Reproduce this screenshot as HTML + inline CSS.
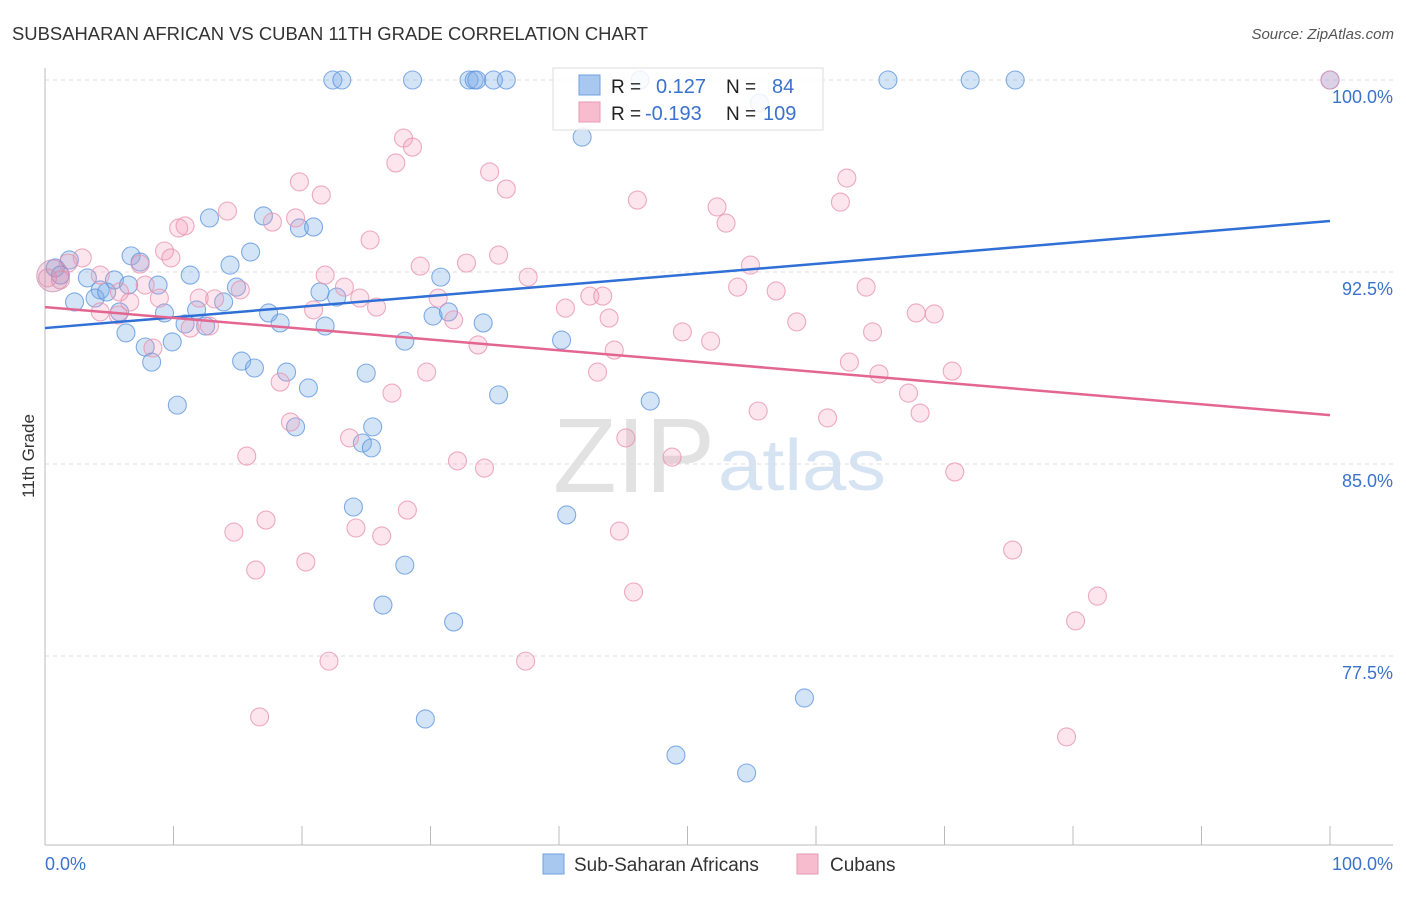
<!DOCTYPE html>
<html><head><meta charset="utf-8"><style>
body{margin:0;background:#fff;font-family:"Liberation Sans",sans-serif;}
svg text{font-family:"Liberation Sans",sans-serif;}
</style></head><body>
<svg id="chart" width="1406" height="892" xmlns="http://www.w3.org/2000/svg">
<text x="12" y="40" font-size="18" fill="#333" textLength="636" lengthAdjust="spacingAndGlyphs">SUBSAHARAN AFRICAN VS CUBAN 11TH GRADE CORRELATION CHART</text>
<text x="1394" y="39" font-size="15" fill="#555" text-anchor="end" font-style="italic">Source: ZipAtlas.com</text>
<text transform="translate(34,456) rotate(-90)" font-size="17" fill="#333" text-anchor="middle">11th Grade</text>
<g>
<text x="553" y="492" font-size="106" font-family="Liberation Serif,serif" fill="#e2e2e2" textLength="162" lengthAdjust="spacingAndGlyphs">ZIP</text>
<text x="718" y="490" font-size="72" fill="#d6e3f3" textLength="168" lengthAdjust="spacingAndGlyphs">atlas</text>
</g>
<g id="grid"></g><g id="axes"></g><g id="pts"></g><g id="trend"></g>
<g>
<rect x="553" y="68" width="270" height="62" fill="#fff" fill-opacity="0.85" stroke="#ddd"/>
<rect x="579" y="75" width="21" height="20" fill="#a9c8ef" stroke="#6fa0e0"/>
<rect x="579" y="102" width="21" height="20" fill="#f7bccd" stroke="#e99ab4"/>
<text x="611" y="93" font-size="19" fill="#222">R =</text>
<text x="656" y="93" font-size="20" fill="#3a72cc">0.127</text>
<text x="726" y="93" font-size="19" fill="#222">N =</text>
<text x="772" y="93" font-size="20" fill="#3a72cc">84</text>
<text x="611" y="120" font-size="19" fill="#222">R =</text>
<text x="645" y="120" font-size="20" fill="#3a72cc">-0.193</text>
<text x="726" y="120" font-size="19" fill="#222">N =</text>
<text x="763" y="120" font-size="20" fill="#3a72cc">109</text>
</g>
<g>
<rect x="543" y="854" width="21" height="20" fill="#a9c8ef" stroke="#6fa0e0"/>
<text x="574" y="871" font-size="19" fill="#333">Sub-Saharan Africans</text>
<rect x="797" y="854" width="21" height="20" fill="#f7bccd" stroke="#e99ab4"/>
<text x="830" y="871" font-size="19" fill="#333">Cubans</text>
</g>
</svg>
<script>
const blueX=[22.4,23.1,28.6,33.0,33.4,33.6,34.9,35.9,65.6,72.0,75.5,100,46.3,41.8,55.6,12.8,17.0,19.8,20.9,16.0,6.7,7.4,1.9,0.8,1.2,3.3,5.4,11.3,14.4,8.8,4.3,6.5,14.9,2.3,3.9,4.8,5.8,9.3,11.8,13.9,10.9,12.5,17.4,18.3,21.4,22.7,21.8,28.0,30.8,30.2,31.4,34.1,40.2,6.3,7.8,9.9,8.3,15.3,16.3,18.8,20.5,25.0,10.3,19.5,25.5,24.7,25.4,35.3,47.1,24.0,40.6,28.0,26.3,31.8,29.6,59.1,49.1,54.6];
const blueY=[100,100,100,100,100,100,100,100,100,100,100,100,100,97.77,99.10,94.61,94.69,94.22,94.26,93.28,93.13,92.89,92.97,92.66,92.38,92.27,92.19,92.38,92.77,91.99,91.80,91.99,91.91,91.33,91.48,91.72,90.94,90.90,91.02,91.33,90.47,90.39,90.90,90.51,91.72,91.52,90.39,89.80,92.30,90.78,90.94,90.51,89.84,90.12,89.57,89.77,88.98,89.02,88.75,88.59,87.97,88.55,87.30,86.45,86.45,85.82,85.63,87.70,87.46,83.32,83.01,81.05,79.49,78.83,75.04,75.86,73.63,72.93];
const pinkX=[27.9,28.6,27.3,34.6,35.9,19.8,21.5,14.2,46.1,52.3,53.0,62.4,61.9,10.9,10.4,17.7,19.5,25.3,9.3,9.8,7.4,2.9,1.8,4.3,1.2,0.2,29.2,32.8,35.3,37.6,54.9,21.8,23.3,24.5,25.8,30.6,42.4,43.4,53.9,56.9,63.9,5.8,6.6,7.8,8.9,12.0,13.2,15.2,4.3,5.7,11.3,12.8,20.9,31.8,40.5,43.9,49.6,51.8,58.5,64.4,67.8,69.2,8.4,33.7,44.3,18.3,27.0,29.7,43.0,62.6,64.9,70.6,67.2,68.1,55.5,60.9,19.1,23.7,45.2,15.7,32.1,34.2,48.8,70.8,28.2,17.2,24.2,26.2,14.7,44.7,20.3,16.4,75.3,45.8,81.9,80.2,22.1,37.4,16.7,79.5,100];
const pinkY=[97.73,97.38,96.76,96.41,95.74,96.02,95.51,94.88,95.31,95.04,94.41,96.17,95.23,94.30,94.22,94.45,94.61,93.75,93.32,93.05,92.81,93.05,92.85,92.38,92.19,92.27,92.73,92.85,93.16,92.30,92.77,92.38,91.91,91.48,91.13,91.48,91.56,91.56,91.91,91.76,91.91,91.72,91.33,91.99,91.48,91.48,91.45,91.80,90.94,90.82,90.31,90.39,91.02,90.63,91.09,90.70,90.16,89.80,90.55,90.16,90.90,90.86,89.53,89.65,89.45,88.20,87.77,88.59,88.59,88.98,88.52,88.63,87.77,86.99,87.07,86.80,86.64,86.02,86.02,85.31,85.12,84.84,85.27,84.69,83.20,82.81,82.50,82.19,82.34,82.38,81.17,80.86,81.64,80.00,79.84,78.87,77.30,77.30,75.12,74.34,100];
const blueTrend=[90.31,94.49];
const pinkTrend=[91.13,86.91];
const yTicks=[100,92.5,85,77.5];
const yTickLabels=["100.0%","92.5%","85.0%","77.5%"];
const xTickLabels=["0.0%","100.0%"];

const NS="http://www.w3.org/2000/svg";
const sx=v=>45+v*12.85;
const sy=v=>80+(100-v)*25.6;
function mk(tag,attrs,parent){const e=document.createElementNS(NS,tag);for(const k in attrs)e.setAttribute(k,attrs[k]);parent.appendChild(e);return e;}
const grid=document.getElementById('grid'),axes=document.getElementById('axes'),pts=document.getElementById('pts'),trend=document.getElementById('trend');
yTicks.forEach((t,i)=>{
  const l=mk('line',{x1:45,x2:1393,y1:sy(t),y2:sy(t),stroke:'#ddd','stroke-dasharray':'4,4'},grid);
  
  
  const tx=mk('text',{x:1393,y:sy(t)+23,'font-size':18,fill:'#3a72cc','text-anchor':'end'},axes);
  tx.textContent=yTickLabels[i];
  
  
});
const ax=mk('line',{x1:45,x2:1393,y1:845,y2:845,stroke:'#bbb'},axes);


const ay=mk('line',{x1:45,x2:45,y1:68,y2:845,stroke:'#bbb'},axes);


for(let i=0;i<=10;i++){
  const t=mk('line',{x1:sx(i*10),x2:sx(i*10),y1:826,y2:845,stroke:'#bbb'},axes);
  
  
}
[[0,'start',45],[100,'end',1393]].forEach((d,i)=>{
  const t=mk('text',{x:d[2],y:870,'font-size':18,fill:'#3a72cc','text-anchor':d[1]},axes);
  t.textContent=xTickLabels[i];
  
  
});
function drawPts(xs,ys,fill,stroke,name){
  xs.forEach((x,i)=>{
    const c=mk('circle',{cx:sx(x),cy:sy(ys[i]),r:9,fill:fill,stroke:stroke,'stroke-width':1.1,'stroke-opacity':0.75},pts);
    
    
  });
}
drawPts(blueX,blueY,'rgba(120,170,230,0.32)','#5b93dd','subsaharan-point');
drawPts(pinkX,pinkY,'rgba(242,150,180,0.25)','#e890ae','cuban-point');
const big1=mk('circle',{cx:sx(0.6),cy:sy(92.35),r:16,fill:'rgba(200,130,170,0.3)',stroke:'#c98ab0','stroke-opacity':0.7},pts);


const bl=mk('line',{x1:sx(0),x2:sx(100),y1:sy(blueTrend[0]),y2:sy(blueTrend[1]),stroke:'#2f6fd6','stroke-width':2.5},trend);


const pl=mk('line',{x1:sx(0),x2:sx(100),y1:sy(pinkTrend[0]),y2:sy(pinkTrend[1]),stroke:'#e36691','stroke-width':2.5},trend);


</script>
</body></html>
